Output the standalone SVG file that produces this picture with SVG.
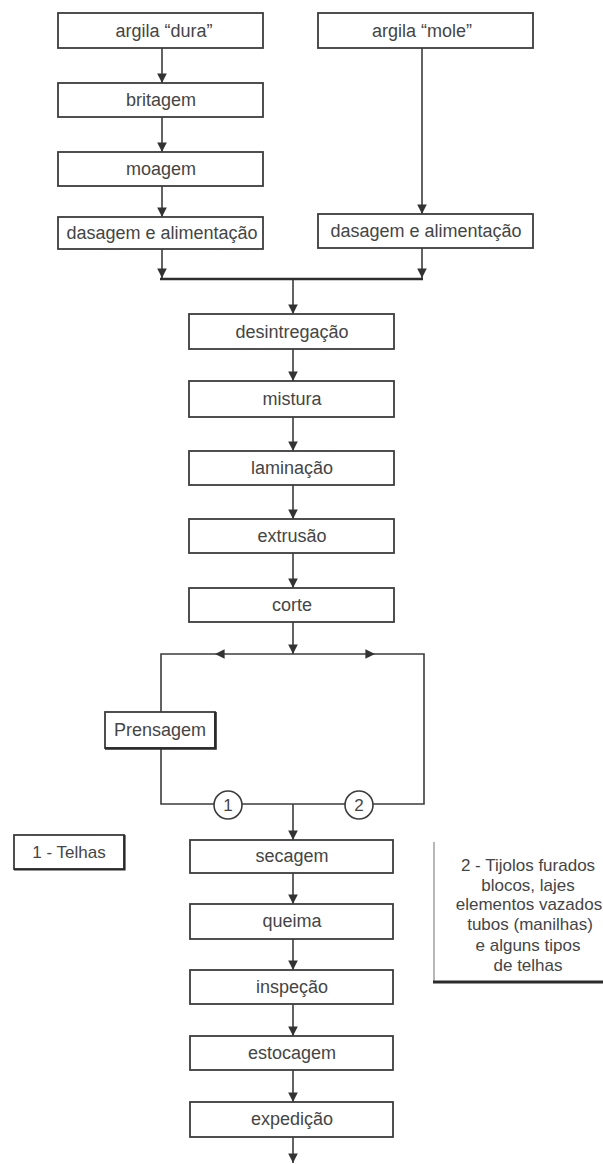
<svg xmlns="http://www.w3.org/2000/svg" width="603" height="1164" viewBox="0 0 603 1164">
<style>
.box{fill:#fff;stroke:#3c3c3c;stroke-width:1.8}
.t{font-family:"Liberation Sans",Arial,sans-serif;font-size:18px;fill:#454545;text-anchor:middle}
.lg{font-family:"Liberation Sans",Arial,sans-serif;font-size:17px;fill:#454545;text-anchor:middle}
.c{fill:none;stroke:#3c3c3c;stroke-width:1.6}
.ca{fill:none;stroke:#3c3c3c;stroke-width:1.6;marker-end:url(#ah)}
</style>
<defs>
<marker id="ah" viewBox="0 0 10 10" refX="10" refY="5" markerWidth="6" markerHeight="6" orient="auto" markerUnits="strokeWidth">
<path d="M0,0 L10,5 L0,10 Z" fill="#333"/>
</marker>
</defs>
<rect width="603" height="1164" fill="#fff"/>
<g id="connectors">
<path class="ca" d="M162 48 V83"/>
<path class="ca" d="M162 117 V152"/>
<path class="ca" d="M162 186 V217"/>
<path class="ca" d="M422 48 V214"/>
<path class="ca" d="M162 249 V278"/>
<path class="ca" d="M422 248 V278"/>
<path d="M160 279 H423" fill="none" stroke="#2e2e2e" stroke-width="2.6"/>
<path class="ca" d="M293 280 V314"/>
<path class="ca" d="M293 349 V381"/>
<path class="ca" d="M293 417 V451"/>
<path class="ca" d="M293 485 V519"/>
<path class="ca" d="M293 553 V588"/>
<path class="ca" d="M293 622 V654"/>
<path class="ca" d="M293 654 H215"/>
<path class="c" d="M215 654 H161 V712"/>
<path class="ca" d="M293 654 H375"/>
<path class="c" d="M375 654 H424 V804 H161 V748"/>
<path class="ca" d="M293 804 V840"/>
<path class="ca" d="M293 873 V904"/>
<path class="ca" d="M293 939 V970"/>
<path class="ca" d="M293 1004 V1036"/>
<path class="ca" d="M293 1070 V1102"/>
<path class="ca" d="M293 1137 V1163"/>
</g>
<g id="n-argila-dura"><rect class="box" x="58" y="13" width="205" height="35"/><text class="t" x="164" y="37">argila “dura”</text></g>
<g id="n-britagem"><rect class="box" x="58" y="83" width="205" height="34"/><text class="t" x="161" y="106">britagem</text></g>
<g id="n-moagem"><rect class="box" x="58" y="152" width="205" height="34"/><text class="t" x="161" y="175">moagem</text></g>
<g id="n-dasagem-1"><rect class="box" x="58" y="217" width="205" height="32"/><text class="t" x="162" y="239">dasagem e alimentação</text></g>
<g id="n-argila-mole"><rect class="box" x="318" y="13" width="215" height="35"/><text class="t" x="422" y="37">argila “mole”</text></g>
<g id="n-dasagem-2"><rect class="box" x="318" y="214" width="215" height="34"/><text class="t" x="426" y="237">dasagem e alimentação</text></g>
<g id="n-desintregacao"><rect class="box" x="189" y="314" width="205" height="35"/><text class="t" x="292" y="338">desintregação</text></g>
<g id="n-mistura"><rect class="box" x="189" y="381" width="205" height="36"/><text class="t" x="292" y="405">mistura</text></g>
<g id="n-laminacao"><rect class="box" x="189" y="451" width="205" height="34"/><text class="t" x="292" y="474">laminação</text></g>
<g id="n-extrusao"><rect class="box" x="189" y="519" width="205" height="34"/><text class="t" x="292" y="542">extrusão</text></g>
<g id="n-corte"><rect class="box" x="189" y="588" width="205" height="34"/><text class="t" x="292" y="611">corte</text></g>
<g id="n-prensagem"><rect class="box" x="105" y="712" width="110" height="36"/><path d="M105 748.5 H215.5 V712" fill="none" stroke="#2a2a2a" stroke-width="2.6"/><text class="t" x="160" y="736">Prensagem</text></g>
<g id="n-c1"><circle cx="228" cy="805" r="14" fill="#fff" stroke="#3c3c3c" stroke-width="1.6"/><text class="lg" x="228" y="811">1</text></g>
<g id="n-c2"><circle cx="359" cy="805" r="14" fill="#fff" stroke="#3c3c3c" stroke-width="1.6"/><text class="lg" x="359" y="811">2</text></g>
<g id="n-secagem"><rect class="box" x="190" y="840" width="203" height="33"/><text class="t" x="292" y="862">secagem</text></g>
<g id="n-queima"><rect class="box" x="190" y="904" width="203" height="35"/><text class="t" x="292" y="927">queima</text></g>
<g id="n-inspecao"><rect class="box" x="190" y="970" width="203" height="34"/><text class="t" x="292" y="993">inspeção</text></g>
<g id="n-estocagem"><rect class="box" x="190" y="1036" width="203" height="34"/><text class="t" x="292" y="1059">estocagem</text></g>
<g id="n-expedicao"><rect class="box" x="190" y="1102" width="203" height="35"/><text class="t" x="292" y="1125">expedição</text></g>
<g id="legend-1"><rect class="box" x="14" y="835" width="110" height="34" stroke-width="1.2"/><path d="M14 869.5 H124.5 V835" fill="none" stroke="#2a2a2a" stroke-width="2.2"/><text class="lg" x="69" y="858">1 - Telhas</text></g>
<g id="legend-2">
<path d="M434 842 V982" fill="none" stroke="#9a9a9a" stroke-width="1.4"/>
<path d="M433 982 H603" fill="none" stroke="#2a2a2a" stroke-width="2.8"/>
<text class="lg" x="528" y="871">2 - Tijolos furados</text>
<text class="lg" x="528" y="891">blocos, lajes</text>
<text class="lg" x="529" y="910">elementos vazados</text>
<text class="lg" x="530" y="930">tubos (manilhas)</text>
<text class="lg" x="528" y="951">e alguns tipos</text>
<text class="lg" x="528" y="971">de telhas</text>
</g>
</svg>
